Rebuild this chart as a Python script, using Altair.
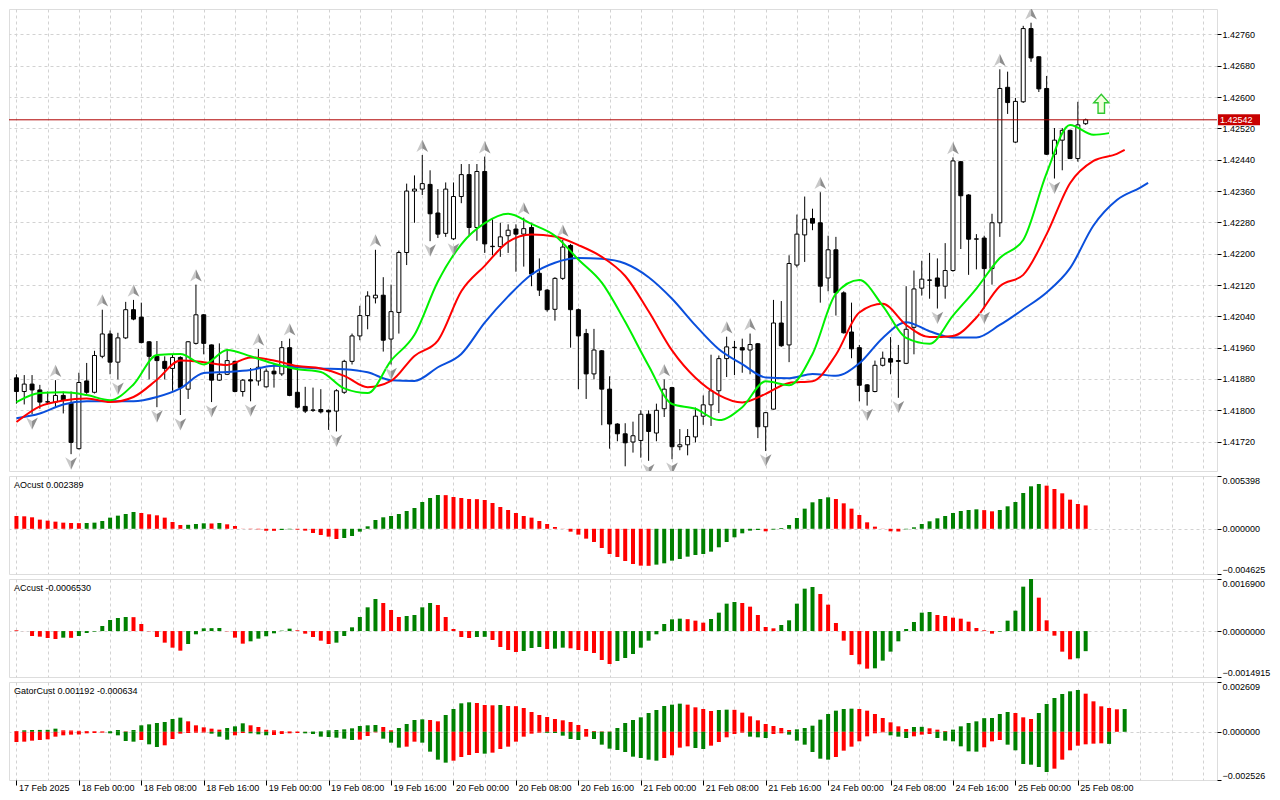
import altair as alt
import numpy as np
import pandas as pd

# ---------------- data ----------------
OPEN = [1.41883, 1.41848, 1.41867, 1.41852, 1.41821, 1.41821, 1.41838, 1.41818, 1.41702, 1.41875,
        1.41846, 1.41938, 1.41995, 1.41923, 1.41985, 1.42057, 1.42038, 1.41975, 1.41938, 1.41925,
        1.41907, 1.41935, 1.41854, 1.41971, 1.42044, 1.41967, 1.41877, 1.41892, 1.41925, 1.41848,
        1.41878, 1.41875, 1.41860, 1.41900, 1.41893, 1.41960, 1.41846, 1.41810, 1.41800, 1.41802,
        1.41800, 1.41798, 1.41846, 1.41925, 1.41990, 1.42042, 1.42087, 1.42094, 1.41982, 1.42050,
        1.42203, 1.42360, 1.42365, 1.42377, 1.42304, 1.42252, 1.42238, 1.42346, 1.42402, 1.42267,
        1.42410, 1.42218, 1.42218, 1.42246, 1.42263, 1.42250, 1.42267, 1.42150, 1.42107, 1.42058,
        1.42137, 1.42221, 1.42057, 1.41996, 1.41893, 1.41952, 1.41854, 1.41765, 1.41740, 1.41719,
        1.41723, 1.41790, 1.41742, 1.41804, 1.41858, 1.41707, 1.41712, 1.41732, 1.41785, 1.41814,
        1.41850, 1.41932, 1.41960, 1.41960, 1.41954, 1.41970, 1.41758, 1.41803, 1.42023, 1.41967,
        1.42171, 1.42248, 1.42290, 1.42279, 1.42138, 1.42210, 1.42100, 1.42000, 1.41960, 1.41865,
        1.41848, 1.41915, 1.41932, 1.41927, 1.41920, 1.42012, 1.42112, 1.42132, 1.42138, 1.42117,
        1.42157, 1.42435, 1.42350, 1.42237, 1.42240, 1.42162, 1.42279, 1.42625, 1.42485, 1.42588,
        1.42775, 1.42703, 1.42622, 1.42454, 1.42490, 1.42515, 1.42443, 1.42532]
HIGH = [1.41892, 1.41890, 1.41890, 1.41865, 1.41848, 1.41877, 1.41848, 1.41848, 1.41896, 1.41921,
        1.41952, 1.42057, 1.42004, 1.41998, 1.42077, 1.42082, 1.42075, 1.41977, 1.41977, 1.41938,
        1.41943, 1.41938, 1.41977, 1.42121, 1.42046, 1.41968, 1.41971, 1.41957, 1.41927, 1.41880,
        1.41908, 1.41957, 1.41907, 1.41921, 1.41977, 1.41983, 1.41908, 1.41860, 1.41858, 1.41854,
        1.41802, 1.41854, 1.41929, 1.41996, 1.42067, 1.42104, 1.42210, 1.42140, 1.42121, 1.42208,
        1.42379, 1.42400, 1.42452, 1.42413, 1.42365, 1.42382, 1.42382, 1.42429, 1.42429, 1.42429,
        1.42448, 1.42288, 1.42279, 1.42275, 1.42275, 1.42292, 1.42279, 1.42188, 1.42110, 1.42140,
        1.42235, 1.42225, 1.42060, 1.42008, 1.42008, 1.41954, 1.41887, 1.41767, 1.41767, 1.41771,
        1.41800, 1.41800, 1.41817, 1.41879, 1.41860, 1.41752, 1.41752, 1.41807, 1.41838, 1.41942,
        1.41940, 1.41988, 1.41977, 1.41983, 1.41996, 1.41972, 1.41796, 1.42082, 1.42079, 1.42196,
        1.42300, 1.42346, 1.42315, 1.42357, 1.42246, 1.42243, 1.42104, 1.42075, 1.41967, 1.41867,
        1.41927, 1.41950, 1.41987, 1.41967, 1.42117, 1.42157, 1.42182, 1.42202, 1.42188, 1.42227,
        1.42446, 1.42437, 1.42352, 1.42250, 1.42246, 1.42302, 1.42671, 1.42665, 1.42598, 1.42782,
        1.42790, 1.42704, 1.42654, 1.42521, 1.42521, 1.42517, 1.42588, 1.42545]
LOW = [1.41817, 1.41815, 1.41790, 1.41804, 1.41815, 1.41808, 1.41792, 1.41688, 1.41700, 1.41842,
       1.41843, 1.41933, 1.41892, 1.41879, 1.41982, 1.42030, 1.41971, 1.41879, 1.41808, 1.41879,
       1.41850, 1.41788, 1.41829, 1.41968, 1.41943, 1.41821, 1.41875, 1.41890, 1.41846, 1.41835,
       1.41823, 1.41863, 1.41858, 1.41858, 1.41888, 1.41836, 1.41805, 1.41793, 1.41796, 1.41792,
       1.41750, 1.41746, 1.41842, 1.41917, 1.41979, 1.42007, 1.42073, 1.41950, 1.41917, 1.41996,
       1.42171, 1.42279, 1.42350, 1.42232, 1.42240, 1.42243, 1.42235, 1.42329, 1.42246, 1.42233,
       1.42202, 1.42196, 1.42192, 1.42202, 1.42154, 1.42167, 1.42117, 1.42092, 1.42052, 1.42029,
       1.42133, 1.41960, 1.41854, 1.41829, 1.41879, 1.41762, 1.41702, 1.41721, 1.41657, 1.41692,
       1.41679, 1.41671, 1.41721, 1.41783, 1.41675, 1.41698, 1.41685, 1.41718, 1.41763, 1.41760,
       1.41793, 1.41885, 1.41890, 1.41896, 1.41892, 1.41729, 1.41696, 1.41802, 1.41962, 1.41923,
       1.42165, 1.42179, 1.42260, 1.42075, 1.42104, 1.42042, 1.41996, 1.41933, 1.41823, 1.41812,
       1.41846, 1.41912, 1.41892, 1.41832, 1.41918, 1.41943, 1.42093, 1.42085, 1.42060, 1.42085,
       1.42154, 1.42212, 1.42146, 1.42160, 1.42060, 1.42121, 1.42243, 1.42557, 1.42483, 1.42585,
       1.42690, 1.42613, 1.42452, 1.42392, 1.42413, 1.42442, 1.42435, 1.42529]
CLOSE = [1.41848, 1.41867, 1.41852, 1.41821, 1.41822, 1.41838, 1.41825, 1.41718, 1.41871, 1.41846,
         1.41940, 1.41995, 1.41923, 1.41985, 1.42057, 1.42033, 1.41973, 1.41938, 1.41927, 1.41907,
         1.41935, 1.41858, 1.41975, 1.42044, 1.41971, 1.41877, 1.41892, 1.41927, 1.41848, 1.41877,
         1.41875, 1.41910, 1.41900, 1.41893, 1.41960, 1.41838, 1.41808, 1.41798, 1.41801, 1.41796,
         1.41796, 1.41850, 1.41925, 1.41990, 1.42042, 1.42092, 1.42094, 1.41979, 1.42052, 1.42203,
         1.42360, 1.42365, 1.42379, 1.42302, 1.42250, 1.42365, 1.42346, 1.42402, 1.42267, 1.42410,
         1.42225, 1.42219, 1.42243, 1.42260, 1.42250, 1.42264, 1.42148, 1.42107, 1.42057, 1.42137,
         1.42217, 1.42057, 1.41990, 1.41893, 1.41954, 1.41854, 1.41765, 1.41740, 1.41717, 1.41735,
         1.41790, 1.41746, 1.41800, 1.41854, 1.41707, 1.41712, 1.41733, 1.41785, 1.41814, 1.41850,
         1.41932, 1.41962, 1.41961, 1.41954, 1.41968, 1.41758, 1.41794, 1.42023, 1.41965, 1.42175,
         1.42250, 1.42288, 1.42278, 1.42117, 1.42210, 1.42100, 1.41998, 1.41957, 1.41864, 1.41848,
         1.41915, 1.41933, 1.41923, 1.41925, 1.42007, 1.42110, 1.42135, 1.42133, 1.42117, 1.42157,
         1.42437, 1.42348, 1.42237, 1.42238, 1.42162, 1.42279, 1.42622, 1.42586, 1.42589, 1.42775,
         1.42700, 1.42621, 1.42454, 1.42490, 1.42515, 1.42443, 1.42529, 1.42542]

UP_FRACTALS = [5, 11, 15, 23, 31, 35, 46, 52, 60, 65, 70, 83, 91, 94, 103, 120, 126, 130]
DOWN_FRACTALS = [2, 7, 13, 18, 21, 25, 30, 41, 48, 53, 56, 81, 84, 96, 109, 113, 118, 124, 133]

# Alligator lines (read every 3rd bar, plus their shifted end point)
JAW_IDX = list(range(0, 145, 3)) + [145]
JAW = [1.41780, 1.41792, 1.41815, 1.41823, 1.41823, 1.41823, 1.41834, 1.41856, 1.41895, 1.41898,
       1.41903, 1.41914, 1.41910, 1.41907, 1.41905, 1.41897, 1.41877, 1.41875, 1.41910, 1.41944,
       1.42024, 1.42091, 1.42147, 1.42177, 1.42189, 1.42187, 1.42175, 1.42140, 1.42085, 1.42017,
       1.41956, 1.41918, 1.41884, 1.41882, 1.41893, 1.41888, 1.41920, 1.41985, 1.42025, 1.42002,
       1.41986, 1.41986, 1.42018, 1.42058, 1.42101, 1.42163, 1.42272, 1.42337, 1.42369, 1.42381]
TEETH_IDX = list(range(0, 142, 3)) + [142]
TEETH = [1.41770, 1.41810, 1.41825, 1.41830, 1.41821, 1.41834, 1.41878, 1.41927, 1.41923, 1.41916,
         1.41935, 1.41927, 1.41913, 1.41907, 1.41888, 1.41859, 1.41875, 1.41939, 1.41978, 1.42104,
         1.42169, 1.42230, 1.42249, 1.42244, 1.42222, 1.42192, 1.42143, 1.42053, 1.41953, 1.41883,
         1.41839, 1.41820, 1.41842, 1.41870, 1.41874, 1.41942, 1.42050, 1.42072, 1.42018, 1.41987,
         1.41990, 1.42037, 1.42117, 1.42146, 1.42250, 1.42380, 1.42437, 1.42455, 1.42465]
LIPS_IDX = list(range(0, 139, 3)) + [140]
LIPS = [1.41821, 1.41844, 1.41846, 1.41839, 1.41826, 1.41866, 1.41941, 1.41944, 1.41917, 1.41954,
        1.41938, 1.41919, 1.41905, 1.41898, 1.41856, 1.41844, 1.41927, 1.41993, 1.42129, 1.42224,
        1.42278, 1.42302, 1.42276, 1.42246, 1.42185, 1.42126, 1.42026, 1.41914, 1.41816, 1.41804,
        1.41775, 1.41808, 1.41874, 1.41864, 1.41944, 1.42098, 1.42133, 1.42067, 1.41985, 1.41970,
        1.42042, 1.42111, 1.42189, 1.42235, 1.42406, 1.42529, 1.42504, 1.42508]

AO = [0.001309, 0.001275, 0.001173, 0.000934, 0.000832, 0.000730, 0.000627, 0.000593, 0.000576, 0.000593,
      0.000627, 0.000798, 0.001139, 0.001343, 0.001514, 0.001718, 0.001616, 0.001480, 0.001377, 0.001139,
      0.000695, 0.000389, 0.000406, 0.000491, 0.000559, 0.000542, 0.000593, 0.000457, 0.000286, 0.000014,
      -0.000037, -0.000055, -0.000191, -0.000208, -0.000123, -0.000055, -0.000089, -0.000191, -0.000430, -0.000634,
      -0.000805, -0.001043, -0.000941, -0.000736, -0.000293, 0.000252, 0.000900, 0.001173, 0.001309, 0.001514,
      0.001820, 0.002127, 0.002741, 0.003150, 0.003457, 0.003440, 0.003252, 0.003150, 0.003048, 0.003031,
      0.002945, 0.002639, 0.002229, 0.001923, 0.001616, 0.001309, 0.001139, 0.000798, 0.000491, 0.000184,
      0.000014, -0.000293, -0.000600, -0.001009, -0.001350, -0.001964, -0.002577, -0.002884, -0.003293, -0.003600,
      -0.003770, -0.003787, -0.003668, -0.003532, -0.003259, -0.003089, -0.002850, -0.002679, -0.002577, -0.002339,
      -0.001895, -0.001350, -0.000873, -0.000464, -0.000191, -0.000123, -0.000259, -0.000089, 0.000082, 0.000389,
      0.001105, 0.002059, 0.002707, 0.003048, 0.003218, 0.003048, 0.002604, 0.002059, 0.001411, 0.000661,
      0.000218, 0.000014, -0.000259, -0.000276, -0.000055, 0.000150, 0.000491, 0.000764, 0.001070, 0.001309,
      0.001616, 0.001820, 0.001923, 0.001991, 0.001906, 0.001786, 0.001923, 0.002298, 0.002741, 0.003661,
      0.004343, 0.004582, 0.004411, 0.004070, 0.003627, 0.002979, 0.002536, 0.002389]

AC = [0.0000238, 0.0000022, -0.0001602, -0.0001818, -0.0002251, -0.0002575, -0.0002143, -0.0002197, -0.0001602, -0.0000628,
      -0.0000195, 0.0001645, 0.0003593, 0.0004242, 0.0004566, 0.0004512, 0.0002294, -0.0000087, -0.0001926, -0.0003766,
      -0.0005389, -0.0006363, -0.0004199, -0.0001060, 0.0000887, 0.0000941, 0.0000996, -0.0000087, -0.0002143, -0.0004090,
      -0.0003333, -0.0002467, -0.0001710, -0.0000736, 0.0000130, 0.0000779, 0.0000238, -0.0000844, -0.0001926, -0.0003116,
      -0.0004199, -0.0003766, -0.0001602, 0.0001212, 0.0004566, 0.0007705, 0.0010410, 0.0009111, 0.0006839, 0.0004566,
      0.0004891, 0.0005216, 0.0007705, 0.0009111, 0.0008462, 0.0004566, 0.0000671, -0.0001926, -0.0002251, -0.0001926,
      -0.0001872, -0.0002900, -0.0005172, -0.0006146, -0.0006796, -0.0006471, -0.0005497, -0.0005172, -0.0005822, -0.0005713,
      -0.0005389, -0.0005605, -0.0006146, -0.0006471, -0.0007120, -0.0009393, -0.0010691, -0.0009717, -0.0008743, -0.0007445,
      -0.0005389, -0.0003116, -0.0001060, 0.0002294, 0.0003809, 0.0004025, 0.0003863, 0.0003376, 0.0002727, 0.0003917,
      0.0005973, 0.0008895, 0.0009436, 0.0009111, 0.0007921, 0.0005216, 0.0001320, 0.0000887, 0.0001969, 0.0003484,
      0.0008895, 0.0013764, 0.0014305, 0.0012033, 0.0008570, 0.0002619, -0.0003116, -0.0007769, -0.0010799, -0.0012206,
      -0.0012098, -0.0009609, -0.0006687, -0.0003333, 0.0000671, 0.0002943, 0.0005973, 0.0006190, 0.0005216, 0.0004891,
      0.0004350, 0.0004025, 0.0003052, 0.0000996, 0.0000238, -0.0000844, -0.0000195, 0.0003376, 0.0006622, 0.0014414,
      0.0016900, 0.0010843, 0.0003484, -0.0001493, -0.0006687, -0.0009176, -0.0008852, -0.0006530]

GATOR_UP = [0.000042, 0.000077, 0.000094, 0.000098, 0.000103, 0.000164, 0.000077, 0.000068, 0.000051, 0.000042,
            0.000033, 0.000024, 0.000033, 0.000094, 0.000024, 0.000094, 0.000339, 0.000391, 0.000461, 0.000514,
            0.000671, 0.000741, 0.000548, 0.000339, 0.000234, 0.000164, 0.000112, 0.000199, 0.000286, 0.000444,
            0.000339, 0.000252, 0.000112, 0.000077, 0.000042, 0.000024, 0.000016, 0.000007, 0.000016, 0.000024,
            0.000077, 0.000094, 0.000129, 0.000182, 0.000304, 0.000339, 0.000356, 0.000252, 0.000077, 0.000199,
            0.000409, 0.000618, 0.000653, 0.000618, 0.000548, 0.000880, 0.001195, 0.001492, 0.001544, 0.001509,
            0.001404, 0.001387, 0.001404, 0.001352, 0.001343, 0.001247, 0.001037, 0.000880, 0.000775, 0.000671,
            0.000601, 0.000514, 0.000356, 0.000147, 0.000042, 0.000024, 0.000016, 0.000199, 0.000461, 0.000618,
            0.000758, 0.000985, 0.001142, 0.001352, 0.001422, 0.001474, 0.001422, 0.001282, 0.001195, 0.001090,
            0.001142, 0.001160, 0.001151, 0.001003, 0.000810, 0.000601, 0.000409, 0.000304, 0.000199, 0.000094,
            0.000129, 0.000199, 0.000321, 0.000636, 0.000933, 0.001107, 0.001195, 0.001212, 0.001195, 0.001107,
            0.000933, 0.000723, 0.000496, 0.000286, 0.000147, 0.000252, 0.000260, 0.000182, 0.000112, 0.000042,
            0.000112, 0.000286, 0.000461, 0.000548, 0.000714, 0.000723, 0.000933, 0.001037, 0.000985, 0.000758,
            0.000671, 0.000985, 0.001457, 0.001771, 0.001981, 0.002120, 0.002190, 0.001998, 0.001596, 0.001334,
            0.001247, 0.001177, 0.001192]

GATOR_DN = [-0.000534, -0.000517, -0.000465, -0.000430, -0.000395, -0.000255, -0.000185, -0.000150, -0.000141, -0.000080,
            -0.000063, -0.000045, -0.000080, -0.000185, -0.000482, -0.000517, -0.000430, -0.000657, -0.000796, -0.000709,
            -0.000377, -0.000098, -0.000063, -0.000045, -0.000037, -0.000098, -0.000255, -0.000412, -0.000185, -0.000063,
            -0.000080, -0.000133, -0.000185, -0.000168, -0.000115, -0.000080, -0.000063, -0.000080, -0.000115, -0.000255,
            -0.000272, -0.000307, -0.000360, -0.000430, -0.000412, -0.000220, -0.000028, -0.000360, -0.000569, -0.000831,
            -0.000779, -0.000517, -0.000569, -0.001041, -0.001460, -0.001617, -0.001513, -0.001320, -0.001216, -0.001111,
            -0.001146, -0.001093, -0.000901, -0.000779, -0.000517, -0.000255, -0.000098, -0.000045, -0.000054, -0.000063,
            -0.000203, -0.000377, -0.000430, -0.000255, -0.000377, -0.000674, -0.000884, -0.000954, -0.001058, -0.001303,
            -0.001373, -0.001460, -0.001513, -0.001373, -0.001233, -0.000831, -0.000762, -0.000849, -0.000901, -0.000727,
            -0.000534, -0.000290, -0.000115, -0.000045, -0.000255, -0.000290, -0.000325, -0.000115, -0.000080, -0.000150,
            -0.000465, -0.000674, -0.001058, -0.001408, -0.001460, -0.001320, -0.000989, -0.000779, -0.000500, -0.000238,
            -0.000080, -0.000028, -0.000185, -0.000255, -0.000325, -0.000238, -0.000150, -0.000115, -0.000325, -0.000465,
            -0.000500, -0.000762, -0.001024, -0.001041, -0.000814, -0.000500, -0.000430, -0.000674, -0.000971, -0.001687,
            -0.001722, -0.001844, -0.002106, -0.001932, -0.001460, -0.000971, -0.000727, -0.000657, -0.000622, -0.000604,
            -0.000634]

LAST_PRICE = 1.42542
BUY_SIGNAL_I = [139]
BUY_SIGNAL_PRICE = [1.42583]

PRICE_TICKS = [1.41720, 1.41800, 1.41880, 1.41960, 1.42040, 1.42120, 1.42200,
               1.42280, 1.42360, 1.42440, 1.42520, 1.42600, 1.42680, 1.42760]
PRICE_RANGE = [1.41645, 1.42825]
AO_RANGE = [-0.004625, 0.005398]
AC_RANGE = [-0.0014915, 0.0016900]
GATOR_RANGE = [-0.002526, 0.002609]

TIME_LABELS = ["17 Feb 2025", "18 Feb 00:00", "18 Feb 08:00", "18 Feb 16:00", "19 Feb 00:00",
               "19 Feb 08:00", "19 Feb 16:00", "20 Feb 00:00", "20 Feb 08:00", "20 Feb 16:00",
               "21 Feb 00:00", "21 Feb 08:00", "21 Feb 16:00", "24 Feb 00:00", "24 Feb 08:00",
               "24 Feb 16:00", "25 Feb 00:00", "25 Feb 08:00"]

AO_TITLE = "AOcust 0.002389"
AC_TITLE = "ACcust -0.0006530"
GATOR_TITLE = "GatorCust 0.001192 -0.000634"

assert len(OPEN) == len(HIGH) == len(LOW) == len(CLOSE) == 138
assert len(AO) == 138 and len(AC) == 138
assert len(GATOR_UP) == 143 and len(GATOR_DN) == 141
assert len(JAW) == len(JAW_IDX) and len(TEETH) == len(TEETH_IDX) and len(LIPS) == len(LIPS_IDX)

# ---------------- style ----------------
FONT = "Liberation Sans"
W = 1208
H_MAIN = 462
H_SUB = 98
X_DOMAIN = [-0.3125, 153.1875]
GRID = "#D2D2D2"
HGREEN = "#008000"
HRED = "#FF0000"
BLUE = "#0A4FDC"
RED = "#FF0000"
LIME = "#00F000"

N_SLOTS = 153
GRID_VALUES = list(range(0, N_SLOTS, 4))
LAST_LABEL_I = 8 * (len(TIME_LABELS) - 1)

label_array = "[" + ",".join("'" + s + "'" for s in TIME_LABELS) + "]"
label_test = f"datum.value % 8 === 0 && datum.value <= {LAST_LABEL_I}"

grid_x_axis = alt.Axis(values=GRID_VALUES, grid=True, gridColor=GRID, gridDash=[3, 3],
                       labels=False, ticks=False, domain=False, title=None)
bottom_x_axis = alt.Axis(values=GRID_VALUES, grid=True, gridColor=GRID, gridDash=[3, 3],
                         labels=True, ticks=True, domain=False, title=None,
                         labelExpr=f"({label_test}) ? {label_array}[datum.value / 8] : ''",
                         tickOpacity={"condition": {"test": label_test, "value": 1}, "value": 0},
                         tickSize=5, tickColor="black", labelAlign="left", labelBaseline="top",
                         labelPadding=-2, labelOffset=2, labelFlush=False, labelOverlap=False,
                         labelFont=FONT, labelFontSize=9, labelColor="black")

xscale = alt.Scale(domain=X_DOMAIN, nice=False, zero=False)


def X(axis):
    return alt.X("i:Q", scale=xscale, axis=axis, title=None)


main_yscale = alt.Scale(domain=PRICE_RANGE, nice=False, zero=False)
main_yaxis = alt.Axis(orient="right", values=PRICE_TICKS, format=".5f", grid=True, gridColor=GRID,
                      gridDash=[3, 3], tickSize=4, tickColor="black", domain=False, title=None,
                      labelFont=FONT, labelFontSize=9, labelColor="black", labelPadding=1)


def Y(field):
    return alt.Y(field + ":Q", scale=main_yscale, axis=main_yaxis, title=None)


# ---------------- main price panel ----------------
cdf = pd.DataFrame({"i": range(len(OPEN)), "open": OPEN, "high": HIGH, "low": LOW, "close": CLOSE})
cdf["dir"] = np.where(cdf["close"] >= cdf["open"], "up", "down")

wicks = alt.Chart(cdf).mark_rule(color="black", strokeWidth=1, clip=True).encode(
    x=X(grid_x_axis), y=Y("low"), y2="high:Q")
bodies = alt.Chart(cdf).mark_bar(width=4, stroke="black", strokeWidth=1, clip=True).encode(
    x=X(grid_x_axis), y=Y("open"), y2="close:Q",
    fill=alt.Fill("dir:N", scale=alt.Scale(domain=["up", "down"], range=["white", "black"]), legend=None))


def gator_line(idx, vals, color):
    d = pd.DataFrame({"i": idx, "v": vals})
    return alt.Chart(d).mark_line(color=color, strokeWidth=2, interpolate="monotone", clip=True).encode(
        x=X(grid_x_axis), y=Y("v"))


jaw = gator_line(JAW_IDX, JAW, BLUE)
teeth = gator_line(TEETH_IDX, TEETH, RED)
lips = gator_line(LIPS_IDX, LIPS, LIME)

price_df = pd.DataFrame({"price": [LAST_PRICE], "label": [f"{LAST_PRICE:.5f}"]})
price_rule = alt.Chart(price_df).mark_rule(color="#B00000", strokeWidth=1).encode(y=Y("price"))

UP_L = "M0,-1 L0,0.35 L-0.9,0.9 Z"
UP_R = "M0,-1 L0.9,0.9 L0,0.35 Z"
DN_L = "M0,1 L0,-0.35 L-0.9,-0.9 Z"
DN_R = "M0,1 L0.9,-0.9 L0,-0.35 Z"

up_df = cdf[cdf["i"].isin(UP_FRACTALS)]
dn_df = cdf[cdf["i"].isin(DOWN_FRACTALS)]


def frac(df, field, shape, fill, offset):
    return alt.Chart(df).mark_point(shape=shape, size=169, filled=True, fill=fill, strokeWidth=0,
                                    opacity=1, yOffset=offset, clip=True).encode(
        x=X(grid_x_axis), y=Y(field))


frac_layers = [frac(up_df, "high", UP_L, "#C8C8C8", -9), frac(up_df, "high", UP_R, "#8E8E8E", -9),
               frac(dn_df, "low", DN_L, "#C8C8C8", 9), frac(dn_df, "low", DN_R, "#8E8E8E", 9)]

buy_df = pd.DataFrame({"i": BUY_SIGNAL_I, "price": BUY_SIGNAL_PRICE})
buy = alt.Chart(buy_df).mark_point(
    shape="M0,-1 L0.8,-0.1 L0.34,-0.1 L0.34,1 L-0.34,1 L-0.34,-0.1 L-0.8,-0.1 Z",
    size=361, filled=True, fill="#F0FFDC", stroke="#30C830", strokeWidth=1.4, opacity=1).encode(
    x=X(grid_x_axis), y=Y("price"))

box = alt.Chart(price_df).mark_point(
    shape="M-1,-0.262 L1,-0.262 L1,0.262 L-1,0.262 Z", size=1764, filled=True,
    fill="#C80000", strokeWidth=0, opacity=1).encode(x=alt.value(W + 22), y=Y("price"))
box_text = alt.Chart(price_df).mark_text(align="left", baseline="middle", color="white",
                                         font=FONT, fontSize=9).encode(
    x=alt.value(W + 3), y=Y("price"), text="label:N")

main = alt.layer(wicks, bodies, jaw, teeth, lips, price_rule, *frac_layers, buy, box, box_text).properties(
    width=W, height=H_MAIN)


# ---------------- indicator panels ----------------
def colors(vals, use_abs):
    out = ["r"]
    for a, b in zip(vals[:-1], vals[1:]):
        if use_abs:
            out.append("g" if abs(b) > abs(a) else "r")
        else:
            out.append("g" if b > a else "r")
    return out


def panel(df, rng, fmt, title, x_axis):
    yax = alt.Axis(orient="right", values=[rng[1], 0, rng[0]], format=fmt, grid=True, gridColor=GRID,
                   gridDash=[3, 3], gridOpacity={"condition": {"test": "datum.value === 0", "value": 1},
                                                 "value": 0},
                   tickSize=4, tickColor="black", domain=False, labelFlush=True, title=None,
                   labelFont=FONT, labelFontSize=9, labelColor="black", labelPadding=1)
    bars = alt.Chart(df).mark_bar(width=4, clip=True).encode(
        x=X(x_axis),
        y=alt.Y("v:Q", scale=alt.Scale(domain=rng, nice=False, zero=False), axis=yax, title=None),
        y2=alt.datum(0),
        color=alt.Color("c:N", scale=alt.Scale(domain=["g", "r"], range=[HGREEN, HRED]), legend=None))
    txt = alt.Chart(pd.DataFrame({"t": [title]})).mark_text(
        align="left", baseline="middle", font=FONT, fontSize=9, color="black").encode(
        x=alt.value(5), y=alt.value(9), text="t:N")
    return alt.layer(bars, txt).properties(width=W, height=H_SUB)


ao_df = pd.DataFrame({"i": range(len(AO)), "v": AO, "c": colors(AO, False)})
ac_df = pd.DataFrame({"i": range(len(AC)), "v": AC, "c": colors(AC, False)})
g_df = pd.concat([
    pd.DataFrame({"i": range(len(GATOR_UP)), "v": GATOR_UP, "c": colors(GATOR_UP, True)}),
    pd.DataFrame({"i": range(len(GATOR_DN)), "v": GATOR_DN, "c": colors(GATOR_DN, True)}),
], ignore_index=True)

ao_chart = panel(ao_df, AO_RANGE, ".6f", AO_TITLE, grid_x_axis)
ac_chart = panel(ac_df, AC_RANGE, ".7f", AC_TITLE, grid_x_axis)
gator_chart = panel(g_df, GATOR_RANGE, ".6f", GATOR_TITLE, bottom_x_axis)

chart = alt.vconcat(main, ao_chart, ac_chart, gator_chart, spacing=3, padding=0,
                    background="white").resolve_scale(
    x="independent", y="independent", color="independent", fill="independent"
).configure_view(stroke="black", strokeWidth=1).configure(font=FONT)

chart.save("out.html", embed_options={"renderer": "svg", "actions": False})
